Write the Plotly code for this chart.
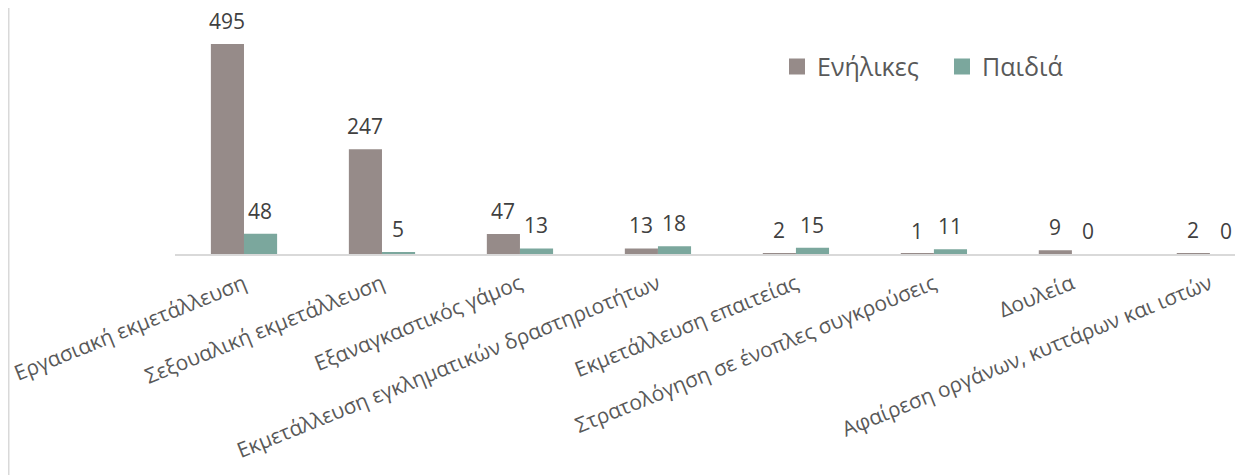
import plotly.graph_objects as go

categories = [
    "Εργασιακή εκμετάλλευση",
    "Σεξουαλική εκμετάλλευση",
    "Εξαναγκαστικός γάμος",
    "Εκμετάλλευση εγκληματικών δραστηριοτήτων",
    "Εκμετάλλευση επαιτείας",
    "Στρατολόγηση σε ένοπλες συγκρούσεις",
    "Δουλεία",
    "Αφαίρεση οργάνων, κυττάρων και ιστών",
]
adults = [495, 247, 47, 13, 2, 1, 9, 2]
children = [48, 5, 13, 18, 15, 11, 0, 0]
series_names = ["Ενήλικες", "Παιδιά"]
colors = ["#968b89", "#7ba79d"]

FONT = "Open Sans"
# the page body has an 8px margin, so the figure is placed at (8, 8)
W, H = 1235, 467
ML, MB = 167, 221
PW = W - ML

fig = go.Figure()
for name, vals, col in zip(series_names, [adults, children], colors):
    fig.add_trace(go.Bar(x=categories, y=vals, name=name, marker_color=col,
                         marker_line_width=0, showlegend=False))
    # legend entry with a larger square swatch
    fig.add_trace(go.Scatter(x=[None], y=[None], name=name, mode="markers",
                             marker=dict(symbol="square", size=16, color=col)))

# data labels
for vals, shift in [(adults, -16.5), (children, 16.5)]:
    for c, v in zip(categories, vals):
        fig.add_annotation(x=c, y=v, xref="x", yref="y", text=str(v), showarrow=False,
                           xshift=shift, yshift=23, yanchor="middle",
                           font=dict(family=FONT, size=21, color="#404040"))

# left border line
fig.add_shape(type="line", xref="paper", yref="paper",
              x0=(0.5 - ML) / PW, x1=(0.5 - ML) / PW, y0=-1, y1=1.1,
              line=dict(color="#d9d9d9", width=2))

fig.update_layout(
    width=W, height=H,
    margin=dict(l=ML, r=0, t=0, b=MB),
    plot_bgcolor="white", paper_bgcolor="white",
    barmode="group", bargap=0.52, bargroupgap=0,
    font=dict(family=FONT, color="#595959"),
    legend=dict(orientation="h", x=(769 - ML) / PW, y=0.855, xanchor="left", yanchor="top",
                font=dict(family=FONT, size=25, color="#595959"),
                entrywidth=120, entrywidthmode="pixels",
                bgcolor="rgba(0,0,0,0)"),
    xaxis=dict(range=[-0.5, 7.24], showline=True, linecolor="#d9d9d9", linewidth=1.5,
               ticks="", tickangle=-22, automargin=False, ticklabelstandoff=8,
               tickfont=dict(family=FONT, size=21, color="#595959"),
               showgrid=False, zeroline=False),
    yaxis=dict(range=[0, 580], visible=False, showgrid=False, zeroline=False),
)

fig.write_html("out.html")
